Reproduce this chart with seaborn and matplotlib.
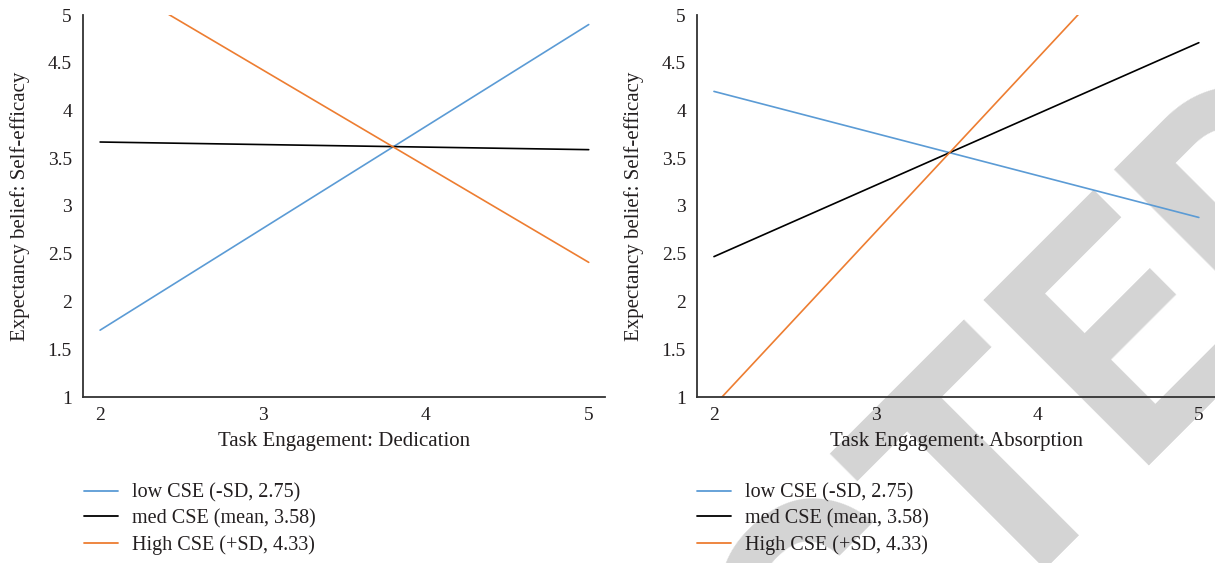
import matplotlib
matplotlib.use("Agg")
import numpy as np
import matplotlib.pyplot as plt
import pandas as pd
import seaborn as sns
from matplotlib.textpath import TextPath
from matplotlib.font_manager import FontProperties

# ---------------- data ----------------
x_points = [2, 5]
groups = ["low CSE (-SD, 2.75)", "med CSE (mean, 3.58)", "High CSE (+SD, 4.33)"]
dedication_low = [1.70, 4.90]
dedication_med = [3.67, 3.59]
dedication_high = [5.43, 2.41]
absorption_low = [4.20, 2.88]
absorption_med = [2.47, 4.71]
absorption_high = [0.91, 6.36]
x_ticks = [2, 3, 4, 5]
y_ticks = [1, 1.5, 2, 2.5, 3, 3.5, 4, 4.5, 5]
y_tick_labels = ["1", "1.5", "2", "2.5", "3", "3.5", "4", "4.5", "5"]
y_label = "Expectancy belief: Self-efficacy"
x_labels = ["Task Engagement: Dedication", "Task Engagement: Absorption"]
colors = ["#5B9BD5", "#000000", "#ED7D31"]
watermark = "RETRACTED"


def make_df(low, med, high):
    rows = []
    for g, vals in zip(groups, [low, med, high]):
        for xv, yv in zip(x_points, vals):
            rows.append({"x": xv, "y": yv, "group": g})
    return pd.DataFrame(rows)


df_ded = make_df(dedication_low, dedication_med, dedication_high)
df_abs = make_df(absorption_low, absorption_med, absorption_high)

sns.set_theme(style="white")
plt.rcParams["font.family"] = ["Liberation Serif", "DejaVu Serif"]

W, H = 1215, 563
fig = plt.figure(figsize=(W / 100, H / 100), dpi=100)
fig.patch.set_facecolor("white")

# ---- watermark (behind everything): anchor so the last "E" sits where it does in the reference
wm_px = 328.0
fp = FontProperties(family="Roboto", weight="bold")
tp_a = TextPath((0, 0), watermark[:-2], prop=fp, size=wm_px)
tp_b = TextPath((0, 0), watermark[:-1], prop=fp, size=wm_px)
e_verts = tp_b.vertices[len(tp_a.vertices):]
e_xmin = e_verts[:, 0].min() if len(e_verts) else tp_a.get_extents().x1
target = np.array([1128.0, H - 465.0])  # E bottom-left corner (pixels, y up)
d = np.array([np.cos(np.pi / 4), np.sin(np.pi / 4)])
start = target - e_xmin * d
fig.text(start[0] / W, start[1] / H, watermark, rotation=45, rotation_mode="anchor",
         ha="left", va="baseline", fontsize=wm_px * 72 / 100,
         family="Roboto", weight="bold", color="#d4d4d4", zorder=-10)

ax1 = fig.add_axes([83 / W, 1 - 397 / H, (605 - 83) / W, (397 - 15) / H])
ax2 = fig.add_axes([697 / W, 1 - 397 / H, (1215 - 697) / W, (397 - 15) / H])

palette = dict(zip(groups, colors))

for ax, df, xl, legx in [(ax1, df_ded, x_labels[0], 84), (ax2, df_abs, x_labels[1], 697)]:
    ax.set_facecolor("none")
    sns.lineplot(data=df, x="x", y="y", hue="group", hue_order=groups,
                 palette=palette, lw=1.2, ax=ax, legend=True)
    ax.set_xlim(1.895, 5.1)
    ax.set_ylim(1, 5)
    ax.set_xticks(x_ticks)
    ax.set_xticklabels([str(t) for t in x_ticks])
    ax.set_yticks(y_ticks)
    ax.set_yticklabels(y_tick_labels)
    ax.tick_params(axis="both", length=0, labelsize=14, colors="#231f20")
    ax.tick_params(axis="y", pad=8)
    ax.tick_params(axis="x", pad=7)
    for s in ["top", "right"]:
        ax.spines[s].set_visible(False)
    for s in ["left", "bottom"]:
        ax.spines[s].set_color("#333333")
        ax.spines[s].set_linewidth(1.3)
    ax.set_xlabel(xl, fontsize=15, color="#231f20", labelpad=6)
    ax.set_ylabel(y_label, fontsize=15, color="#231f20", labelpad=13)
    h, l = ax.get_legend_handles_labels()
    leg = ax.legend(h, l, loc="center left", bbox_to_anchor=(legx / W, 1 - 519 / H),
                    bbox_transform=fig.transFigure, frameon=False, fontsize=14.5,
                    handlelength=1.7, handletextpad=0.7, labelspacing=0.32,
                    borderpad=0, borderaxespad=0)
    for t in leg.get_texts():
        t.set_color("#231f20")
    for ln in leg.get_lines():
        ln.set_linewidth(1.3)

fig.savefig("out.png", dpi=100, facecolor="white")
